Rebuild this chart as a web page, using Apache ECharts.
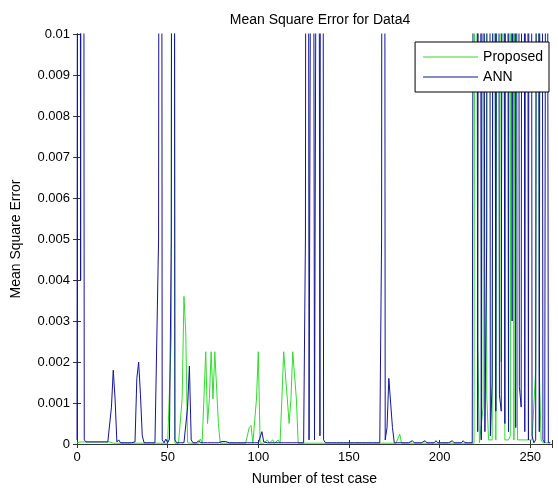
<!DOCTYPE html>
<html><head><meta charset="utf-8">
<script src="https://cdn.jsdelivr.net/npm/echarts@6/dist/echarts.min.js"></script>
<style>html,body{margin:0;padding:0;background:#fff}#c{width:558px;height:491px}</style>
</head><body><div id="c"></div>
<script>
var titleText = 'Mean Square Error for Data4';
var xName = 'Number of test case';
var yName = 'Mean Square Error';
var seriesNames = ['Proposed', 'ANN'];
var xTicks = [0, 50, 100, 150, 200, 250];
var yTicks = [0, 0.001, 0.002, 0.003, 0.004, 0.005, 0.006, 0.007, 0.008, 0.009, 0.01];

var annValues = [
0.0001,0.06,0.004,0.06,0.0001,0.00005,0.00005,0.00005,0.00005,0.00005,
0.00005,0.00005,0.00005,0.00005,0.00005,0.00005,0.00005,0.00005,0.00005,0.0009,
0.0018,0.0011,0.00005,0.0001,0.00003,0.00003,0.00003,0.00003,0.00003,0.00003,
0.00003,0.00003,0.00005,0.0016,0.002,0.0012,0.0002,0.00003,0.00003,0.00003,
0.00003,0.00003,0.00003,0.00003,0.00003,0.005,0.06,0.0001,0.00003,0.00012,
0.00003,0.00012,0.005,0.05,0.0001,0.00003,0.00003,0.00003,0.00003,0.00003,
0.00003,0.0009,0.0019,0.0001,0.00003,0.00003,0.00003,0.00008,0.00003,0.00003,
0.00003,0.00003,0.00003,0.00003,0.00003,0.00003,0.00003,0.00003,0.00003,0.00003,
0.00006,0.00003,0.00006,0.00003,0.00003,0.00003,0.00003,0.00003,0.00003,0.00003,
0.00003,0.00003,0.00003,0.00003,0.00003,0.00003,0.00003,0.00005,0.00003,0.00003,
0.00003,0.00005,0.0003,0.00005,0.00003,0.00003,0.00003,0.00003,0.00003,0.00003,
0.00003,0.00003,0.00003,0.00003,0.00003,0.00003,0.00003,0.00003,0.00003,0.00003,
0.00003,0.00003,0.00003,0.00003,0.00003,0.00003,0.005,0.05,0.0001,0.0001,
0.03,0.0001,0.0001,0.03,0.0002,0.06,0.0001,0.00003,0.00003,0.00003,
0.00003,0.00003,0.00003,0.00003,0.00003,0.00003,0.00003,0.00003,0.00003,0.00003,
0.00003,0.00003,0.00003,0.00003,0.00003,0.00003,0.00003,0.00003,0.00003,0.00003,
0.00003,0.00003,0.00003,0.00003,0.00003,0.00003,0.00003,0.00003,0.005,0.06,
0.0001,0.0004,0.0016,0.001,0.0004,0.00003,0.00003,0.00003,0.00003,0.00003,
0.00003,0.00003,0.00003,0.00003,0.00003,0.00008,0.00003,0.00003,0.00003,0.00003,
0.00003,0.00003,0.00008,0.00003,0.00003,0.00003,0.00003,0.00003,0.00008,0.00003,
0.00003,0.00003,0.00003,0.00003,0.00003,0.00003,0.00003,0.00008,0.00003,0.00003,
0.00003,0.00003,0.00003,0.00008,0.00003,0.00003,0.00003,0.00003,0.00003,0.00003,
0.05,0.0003,0.04,0.0001,0.03,0.0003,0.005,0.05,0.0002,0.0015,
0.03,0.0008,0.04,0.0012,0.0008,0.03,0.0005,0.04,0.0003,0.05,
0.003,0.04,0.0004,0.04,0.0014,0.0009,0.05,0.0003,0.04,0.0001,
0.05,0.0002,0.00003,0.0001,0.04,0.0003,0.04,0.0001,0.00003,0.03,
0.00003,0.00003
];

var proposedValues = [
0.00003,0.00005,0.00005,0.00005,0.00005,0.00005,0.00005,0.00005,0.00005,0.00005,
0.00005,0.00005,0.00005,0.00005,0.00005,0.00005,0.00005,0.00005,0.00005,0.00005,
0.00002,0.00002,0.00002,0.00002,0.00002,0.00002,0.00002,0.00002,0.00002,0.00002,
0.00002,0.00002,0.00002,0.00002,0.00002,0.00002,0.00002,0.00002,0.00002,0.00002,
0.00002,0.00002,0.00002,0.00002,0.00002,0.00002,0.00002,0.00002,0.00002,0.00002,
0.00002,0.00002,0.0026,0.08,0.00002,0.00002,0.00002,0.00003,0.0011,0.0036,
0.0027,0.00003,0.00002,0.00002,0.00002,0.00002,0.00002,0.00002,0.00012,0.00002,
0.0011,0.00225,0.0005,0.0011,0.00225,0.0011,0.00225,0.00225,0.0005,0.00002,
0.00002,0.00002,0.00002,0.00002,0.00002,0.00002,0.00002,0.00002,0.00002,0.00002,
0.00002,0.00002,0.00002,0.00002,0.00002,0.0004,0.00045,0.00002,0.00002,0.0011,
0.00225,0.00002,0.00002,0.00002,0.00002,0.0001,0.00002,0.00002,0.0001,0.00002,
0.00002,0.0001,0.00002,0.0011,0.00225,0.00225,0.0011,0.0005,0.0011,0.00225,
0.00225,0.0011,0.00002,0.00002,0.00002,0.00002,0.00002,0.00002,0.00002,0.00002,
0.00002,0.00002,0.00002,0.00002,0.00002,0.00002,0.00002,0.00002,0.00002,0.00002,
0.00002,0.00002,0.00002,0.00002,0.00002,0.00002,0.00002,0.00002,0.00002,0.00002,
0.00002,0.00002,0.00002,0.00002,0.00002,0.00002,0.00002,0.00002,0.00002,0.00002,
0.00002,0.00002,0.00002,0.00002,0.00002,0.00002,0.00002,0.00002,0.00002,0.00002,
0.00002,0.00002,0.00002,0.00002,0.00002,0.00002,0.00002,0.00002,0.00024,0.00002,
0.00002,0.00002,0.00002,0.00002,0.00002,0.00002,0.00002,0.00002,0.00002,0.00002,
0.00002,0.00002,0.00002,0.00002,0.00002,0.00002,0.00002,0.00002,0.00002,0.00002,
0.00002,0.00002,0.00002,0.00002,0.00002,0.00002,0.00002,0.00002,0.00002,0.00002,
0.00002,0.00002,0.00002,0.00002,0.00002,0.00002,0.00002,0.00002,0.00002,0.00002,
0.04,0.0025,0.00003,0.00003,0.0009,0.05,0.0012,0.0001,0.0001,0.0001,
0.03,0.0001,0.0001,0.04,0.002,0.03,0.0001,0.0001,0.0001,0.0002,
0.04,0.0001,0.03,0.0001,0.0001,0.0001,0.0001,0.0001,0.0001,0.0001,
0.0001,0.0001,0.0001,0.0018,0.04,0.0018,0.0001,0.00003,0.00003,0.00003,
0.00003,0.00003
];

function toPairs(arr) { return arr.map(function (v, i) { return [i, v]; }); }

var FONT = 'Liberation Sans, Arial, sans-serif';
var axisColor = '#333';
var chart = echarts.init(document.getElementById('c'), null, { renderer: 'canvas' });
var xMin = 0, xMax = 262;
chart.setOption({
  animation: false,
  backgroundColor: '#fff',
  title: {
    text: titleText, left: 315, top: 8, textAlign: 'center',
    textStyle: { fontSize: 14, fontWeight: 'normal', color: '#000', fontFamily: FONT }
  },
  legend: {
    data: seriesNames, orient: 'vertical', right: 9, top: 42,
    backgroundColor: '#fff', borderColor: '#000', borderWidth: 1,
    icon: 'rect',
    padding: [7, 6, 7, 8], itemGap: 4, itemWidth: 55, itemHeight: 1,
    textStyle: { fontSize: 14, color: '#000', fontFamily: FONT, lineHeight: 16 }
  },
  grid: { left: 77, right: 6, top: 34, bottom: 46 },
  xAxis: [{
    type: 'value', min: xMin, max: xMax, interval: 50, position: 'bottom',
    name: xName, nameLocation: 'middle', nameGap: 28,
    nameTextStyle: { fontSize: 14, color: '#000', fontFamily: FONT },
    axisLine: { show: true, lineStyle: { color: axisColor, width: 1 } },
    axisTick: { show: true, inside: true, length: 4, lineStyle: { color: axisColor } },
    axisLabel: { fontSize: 13, color: '#000', fontFamily: FONT, margin: 7,
      formatter: function (v) { return xTicks.indexOf(v) >= 0 ? String(v) : ''; } },
    splitLine: { show: false }
  }, {
    type: 'value', min: xMin, max: xMax, interval: 50, position: 'top',
    axisLine: { show: true, lineStyle: { color: axisColor, width: 1 } },
    axisTick: { show: true, inside: true, length: 4, lineStyle: { color: axisColor } },
    axisLabel: { show: false }, splitLine: { show: false }
  }],
  yAxis: [{
    type: 'value', min: 0, max: 0.01, interval: 0.001, position: 'left',
    name: yName, nameLocation: 'middle', nameGap: 54,
    nameTextStyle: { fontSize: 14, color: '#000', fontFamily: FONT },
    axisLine: { show: true, lineStyle: { color: axisColor, width: 1 } },
    axisTick: { show: true, inside: true, length: 4, lineStyle: { color: axisColor } },
    axisLabel: { fontSize: 13, color: '#000', fontFamily: FONT, margin: 7,
      formatter: function (v) {
        for (var k = 0; k < yTicks.length; k++) { if (Math.abs(yTicks[k] - v) < 1e-9) return String(yTicks[k]); }
        return '';
      } },
    splitLine: { show: false }
  }, {
    type: 'value', min: 0, max: 0.01, interval: 0.001, position: 'right',
    axisLine: { show: true, lineStyle: { color: axisColor, width: 1 } },
    axisTick: { show: true, inside: true, length: 4, lineStyle: { color: axisColor } },
    axisLabel: { show: false }, splitLine: { show: false }
  }],
  series: [{
    name: seriesNames[0], type: 'line', data: toPairs(proposedValues),
    showSymbol: false, symbol: 'none', clip: true,
    lineStyle: { color: '#2fdc2f', width: 1 }, itemStyle: { color: '#2fdc2f' }
  }, {
    name: seriesNames[1], type: 'line', data: toPairs(annValues),
    showSymbol: false, symbol: 'none', clip: true,
    lineStyle: { color: '#14149a', width: 1 }, itemStyle: { color: '#14149a' }
  }]
});
</script>
</body></html>
